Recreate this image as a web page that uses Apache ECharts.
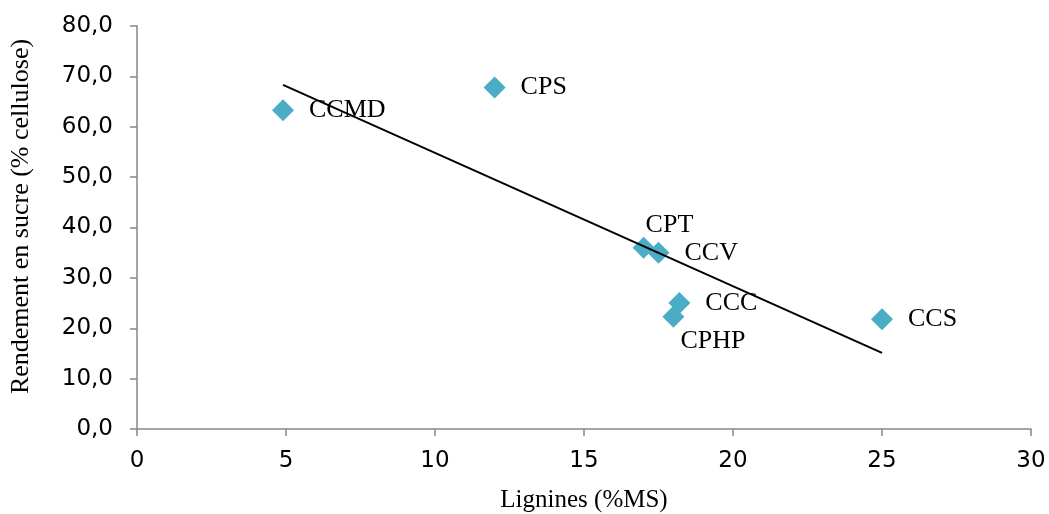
<!DOCTYPE html>
<html>
<head>
<meta charset="utf-8">
<script src="https://cdn.jsdelivr.net/npm/echarts@6/dist/echarts.min.js"></script>
<style>
html,body{margin:0;padding:0;background:#fff;}
#chart{width:1049px;height:514px;}
</style>
</head>
<body>
<div id="chart"></div>
<script>
// Data
var names = ['CCMD', 'CPS', 'CPT', 'CCV', 'CCC', 'CPHP', 'CCS'];
var lignines = [4.9, 12.0, 17.0, 17.5, 18.2, 18.0, 25.0];
var rendement = [63.3, 67.8, 36.0, 35.0, 25.0, 22.3, 21.8];
// Linear trend line endpoints
var trendX = [4.9, 25.0];
var trendY = [68.3, 15.1];

var labelPos = {
  CPT: [13, -11],
  CPHP: [18, 36]
};

var scatterData = names.map(function (n, i) {
  var item = { name: n, value: [lignines[i], rendement[i]] };
  if (labelPos[n]) {
    item.label = { position: labelPos[n], align: 'left', verticalAlign: 'middle' };
  }
  return item;
});
var trendData = trendX.map(function (x, i) { return [x, trendY[i]]; });

var axisColor = '#868686';
var chart = echarts.init(document.getElementById('chart'), null, { renderer: 'canvas' });
chart.setOption({
  animation: false,
  backgroundColor: '#ffffff',
  grid: { left: 137, right: 18, top: 26, bottom: 85, containLabel: false, outerBoundsMode: 'none' },
  xAxis: {
    type: 'value',
    min: 0, max: 30, interval: 5,
    name: 'Lignines (%MS)',
    nameLocation: 'middle',
    nameGap: 59,
    nameTextStyle: { fontFamily: 'Liberation Serif', fontSize: 25, color: '#000' },
    axisLine: { show: true, onZero: false, lineStyle: { color: axisColor, width: 1.5 } },
    axisTick: { show: true, inside: false, length: 7, lineStyle: { color: axisColor, width: 1.5 } },
    axisLabel: { margin: 21, fontFamily: 'DejaVu Sans', fontSize: 23, color: '#000' },
    splitLine: { show: false }
  },
  yAxis: {
    type: 'value',
    min: 0, max: 80, interval: 10,
    name: 'Rendement en sucre (% cellulose)',
    nameLocation: 'middle',
    nameGap: 103,
    nameTextStyle: { fontFamily: 'Liberation Serif', fontSize: 26, color: '#000', padding: [0, 0, 0, 22] },
    axisLine: { show: true, onZero: false, lineStyle: { color: axisColor, width: 1.5 } },
    axisTick: { show: true, inside: false, length: 7, lineStyle: { color: axisColor, width: 1.5 } },
    axisLabel: {
      margin: 24, fontFamily: 'DejaVu Sans', fontSize: 23, color: '#000',
      formatter: function (v) { return v.toFixed(1).replace('.', ','); }
    },
    splitLine: { show: false }
  },
  series: [
    {
      type: 'scatter',
      symbol: 'diamond',
      symbolSize: 22,
      itemStyle: { color: '#4BACC6', opacity: 1 },
      z: 2,
      label: {
        show: true,
        position: 'right',
        distance: 15,
        formatter: '{b}',
        fontFamily: 'Liberation Serif',
        fontSize: 26,
        color: '#000',
        opacity: 1,
        textBorderWidth: 0
      },
      data: scatterData
    },
    {
      type: 'line',
      data: trendData,
      symbol: 'none',
      z: 5,
      lineStyle: { color: '#000', width: 2 },
      silent: true
    }
  ]
});
</script>
</body>
</html>
